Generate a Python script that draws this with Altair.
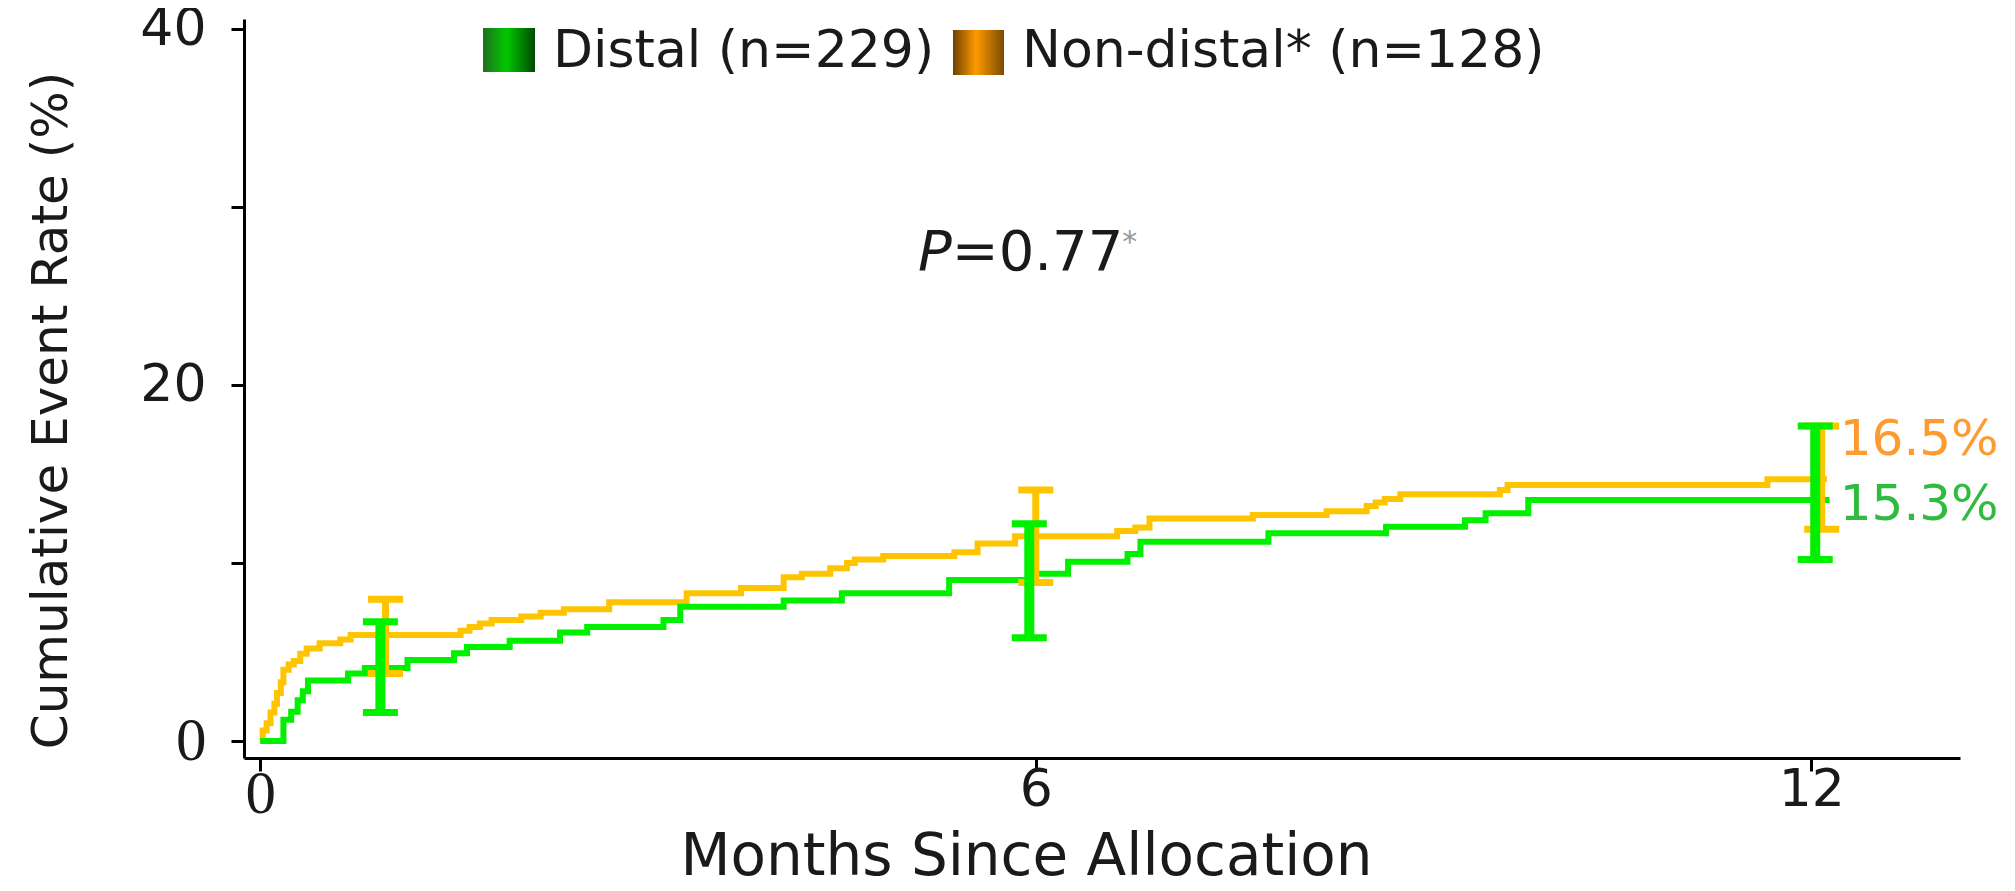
import altair as alt
import pandas as pd

# ---- data ----
distal_t = [0, 0.18, 0.24, 0.29, 0.33, 0.37, 0.68, 0.81, 1.14, 1.50, 1.60, 1.93, 2.32, 2.53,
            3.12, 3.25, 4.05, 4.50, 5.33, 6.00, 6.25, 6.71, 6.81, 7.80, 8.71, 9.32, 9.48, 9.81, 12.14]
distal_v = [0, 1.2, 1.65, 2.3, 2.8, 3.4, 3.8, 4.1, 4.55, 4.93, 5.28, 5.63, 6.1, 6.4,
            6.8, 7.55, 7.9, 8.3, 9.05, 9.4, 10.07, 10.5, 11.2, 11.67, 12.04, 12.4, 12.8, 13.54, 13.54]

nondistal_t = [0, 0.02, 0.05, 0.08, 0.11, 0.13, 0.16, 0.18, 0.22, 0.26, 0.31, 0.36, 0.46, 0.62, 0.70,
               1.55, 1.62, 1.70, 1.79, 2.02, 2.17, 2.35, 2.70, 3.30, 3.72, 4.05, 4.19, 4.41, 4.54, 4.60,
               4.82, 5.37, 5.55, 5.84, 6.63, 6.77, 6.88, 7.68, 8.25, 8.56, 8.63, 8.70, 8.82, 9.59, 9.65,
               11.66, 12.12]
nondistal_v = [0.1, 0.6, 1.0, 1.6, 2.1, 2.7, 3.3, 4.0, 4.3, 4.5, 4.9, 5.2, 5.5, 5.7, 5.96,
               6.2, 6.4, 6.6, 6.8, 7.0, 7.2, 7.4, 7.8, 8.3, 8.6, 9.2, 9.4, 9.7, 10.0, 10.2,
               10.4, 10.6, 11.1, 11.5, 11.8, 12.0, 12.5, 12.7, 12.9, 13.2, 13.4, 13.6, 13.86, 14.1, 14.38,
               14.7, 14.7]

# error bars (time, low, high)
distal_err_t = [0.93, 5.95, 12.03]
distal_err_lo = [1.6, 5.8, 10.2]
distal_err_hi = [6.7, 12.2, 17.7]
nondistal_err_t = [0.97, 6.0, 12.08]
nondistal_err_lo = [3.8, 8.9, 11.9]
nondistal_err_hi = [7.96, 14.1, 17.7]

legend_labels = ["Distal (n=229)", "Non-distal* (n=128)"]
end_labels = ["16.5%", "15.3%"]
end_label_y = [16.9, 13.26]
x_ticks = [0, 6, 12]
y_ticks = [0, 10, 20, 30, 40]

GREEN = "#00F000"
ORANGE = "#FFC400"
FONT = "DejaVu Sans"
SERIF = "Liberation Serif"
TXT = "#1a1a1a"

X_DOMAIN = [-0.125, 13.15]
Y_DOMAIN = [-0.95, 40.55]

xs = alt.Scale(domain=X_DOMAIN, nice=False, zero=False)
ys = alt.Scale(domain=Y_DOMAIN, nice=False, zero=False)

d_df = pd.DataFrame({"t": distal_t, "v": distal_v})
n_df = pd.DataFrame({"t": nondistal_t, "v": nondistal_v})

zero_font = {"condition": {"test": "datum.value == 0", "value": SERIF}, "value": FONT}


def zero_size(normal):
    return {"condition": {"test": "datum.value == 0", "value": normal + 9}, "value": normal}


x_axis = alt.Axis(values=x_ticks, format="d", title="Months Since Allocation", grid=False,
                  domainColor="black", domainWidth=3, tickColor="black", tickWidth=3,
                  tickSize=13, labelFont=zero_font, labelFontSize=zero_size(52), labelColor=TXT,
                  labelPadding=-7, titleFont=FONT, titleFontSize=58, titleFontWeight="normal",
                  titleColor=TXT, titleX=782, titleY=116, titleBaseline="alphabetic",
                  titleAlign="center")
y_axis = alt.Axis(values=y_ticks, format="d",
                  labelExpr="datum.value % 20 == 0 ? datum.label : ''",
                  title="Cumulative Event Rate (%)", grid=False,
                  domainColor="black", domainWidth=3, tickColor="black", tickWidth=3,
                  tickSize=13, labelFont=zero_font, labelFontSize=zero_size(52), labelColor=TXT,
                  labelPadding=25, titleFont=FONT, titleFontSize=50, titleFontWeight="normal",
                  titleColor=TXT, titleX=-178, titleY=391, titleAngle=-90,
                  titleBaseline="alphabetic", titleAlign="center")

base_x = alt.X("t:Q", scale=xs, axis=x_axis)
base_y = alt.Y("v:Q", scale=ys, axis=y_axis)

line_n = alt.Chart(n_df).mark_line(interpolate="step-after", color=ORANGE, strokeWidth=6).encode(
    x=base_x, y=base_y)
line_d = alt.Chart(d_df).mark_line(interpolate="step-after", color=GREEN, strokeWidth=6).encode(
    x=alt.X("t:Q", scale=xs), y=alt.Y("v:Q", scale=ys))


def errbars(t, lo, hi, color, width):
    df = pd.DataFrame({"t": t, "lo": lo, "hi": hi})
    rule = alt.Chart(df).mark_rule(color=color, strokeWidth=width, opacity=1).encode(
        x=alt.X("t:Q", scale=xs), y=alt.Y("lo:Q", scale=ys), y2="hi:Q")
    cap_lo = alt.Chart(df).mark_tick(color=color, orient="horizontal", size=35, thickness=7,
                                     opacity=1).encode(
        x=alt.X("t:Q", scale=xs), y=alt.Y("lo:Q", scale=ys))
    cap_hi = alt.Chart(df).mark_tick(color=color, orient="horizontal", size=35, thickness=7,
                                     opacity=1).encode(
        x=alt.X("t:Q", scale=xs), y=alt.Y("hi:Q", scale=ys))
    return [rule, cap_lo, cap_hi]


err_n = errbars(nondistal_err_t, nondistal_err_lo, nondistal_err_hi, ORANGE, 7)
err_d = errbars(distal_err_t, distal_err_lo, distal_err_hi, GREEN, 10)

# end-of-curve percentage labels
end_df = pd.DataFrame({"t": [12.22, 12.22], "v": end_label_y, "label": end_labels,
                       "c": ["#FF9A30", "#30BB40"]})
end_text = alt.Chart(end_df).mark_text(align="left", baseline="middle", font=FONT, fontSize=50).encode(
    x=alt.X("t:Q", scale=xs), y=alt.Y("v:Q", scale=ys), text="label:N",
    color=alt.Color("c:N", scale=None))

# P value annotation
p_df = pd.DataFrame({"t": [5.09], "v": [26.46], "label": ["P"]})
p_it = alt.Chart(p_df).mark_text(align="left", baseline="alphabetic", font=FONT, fontSize=56,
                                 fontStyle="italic", color=TXT).encode(
    x=alt.X("t:Q", scale=xs), y=alt.Y("v:Q", scale=ys), text="label:N")
pv_df = pd.DataFrame({"t": [5.35], "v": [26.46], "label": ["=0.77"]})
p_val = alt.Chart(pv_df).mark_text(align="left", baseline="alphabetic", font=FONT, fontSize=56,
                                   color=TXT).encode(
    x=alt.X("t:Q", scale=xs), y=alt.Y("v:Q", scale=ys), text="label:N")
ps_df = pd.DataFrame({"t": [6.67], "v": [28.8], "label": ["*"]})
p_star = alt.Chart(ps_df).mark_text(align="left", baseline="top", font=FONT, fontSize=30,
                                    color="#999999").encode(
    x=alt.X("t:Q", scale=xs), y=alt.Y("v:Q", scale=ys), text="label:N")

# legend (drawn manually: gradient swatches + labels), positions in pixels
green_grad = alt.LinearGradient(gradient="linear", x1=0, x2=1, y1=0, y2=0, stops=[
    alt.GradientStop(offset=0, color="#1f6f1f"), alt.GradientStop(offset=0.45, color="#00c800"),
    alt.GradientStop(offset=1, color="#004a00")])
orange_grad = alt.LinearGradient(gradient="linear", x1=0, x2=1, y1=0, y2=0, stops=[
    alt.GradientStop(offset=0, color="#6e4200"), alt.GradientStop(offset=0.45, color="#ff9a00"),
    alt.GradientStop(offset=1, color="#7a4a00")])

sw1 = alt.Chart(pd.DataFrame({"x": [239], "x2": [291], "y": [9], "y2": [53]})).mark_rect(
    color=green_grad).encode(x=alt.X("x:Q", scale=None), x2="x2:Q",
                             y=alt.Y("y:Q", scale=None), y2="y2:Q")
sw2 = alt.Chart(pd.DataFrame({"x": [709], "x2": [760], "y": [11], "y2": [56]})).mark_rect(
    color=orange_grad).encode(x=alt.X("x:Q", scale=None), x2="x2:Q",
                              y=alt.Y("y:Q", scale=None), y2="y2:Q")
leg_df = pd.DataFrame({"x": [309, 778], "y": [32, 32], "label": legend_labels})
leg_text = alt.Chart(leg_df).mark_text(align="left", baseline="middle", font=FONT, fontSize=52,
                                       color=TXT).encode(
    x=alt.X("x:Q", scale=None), y=alt.Y("y:Q", scale=None), text="label:N")

chart = alt.layer(line_n, line_d, *err_n, *err_d, end_text, p_it, p_val, p_star,
                  sw1, sw2, leg_text).properties(
    width=1716, height=739,
    padding={"left": 236, "top": 11, "right": 47, "bottom": 120},
    autosize=alt.AutoSizeParams(type="none"),
    background="white",
).configure_view(strokeWidth=0, strokeOpacity=0)

chart.save("out.html", embed_options={"renderer": "svg", "actions": False})
